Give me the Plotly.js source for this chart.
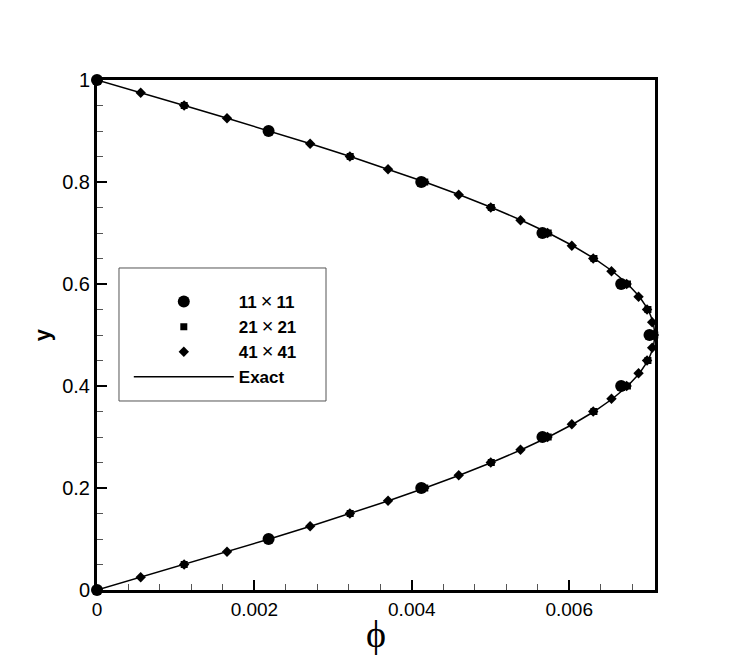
<!DOCTYPE html>
<html>
<head>
<meta charset="utf-8">
<script src="https://cdn.plot.ly/plotly-3.0.1.min.js"></script>
<style>
  html, body { margin: 0; padding: 0; background: #fff; }
  #plot { width: 747px; height: 665px; }
</style>
</head>
<body>
<div id="plot"></div>
<script>
// Grid convergence of phi(y): three meshes vs. the exact profile

const yFine = [0, 0.025, 0.05, 0.075, 0.1, 0.125, 0.15, 0.175, 0.2, 0.225, 0.25,
  0.275, 0.3, 0.325, 0.35, 0.375, 0.4, 0.425, 0.45, 0.475, 0.5,
  0.525, 0.55, 0.575, 0.6, 0.625, 0.65, 0.675, 0.7, 0.725, 0.75,
  0.775, 0.8, 0.825, 0.85, 0.875, 0.9, 0.925, 0.95, 0.975, 1];
const phiExact = [0, 0.000556, 0.001109, 0.001655, 0.002191, 0.002713, 0.003219, 0.003705, 0.004167, 0.004605, 0.005013,
  0.005391, 0.005736, 0.006045, 0.006317, 0.006550, 0.006743, 0.006894, 0.007003, 0.007068, 0.007090,
  0.007068, 0.007003, 0.006894, 0.006743, 0.006550, 0.006317, 0.006045, 0.005736, 0.005391, 0.005013,
  0.004605, 0.004167, 0.003705, 0.003219, 0.002713, 0.002191, 0.001655, 0.001109, 0.000556, 0];
const phi41 = [0, 0.000555, 0.001107, 0.001652, 0.002187, 0.002708, 0.003213, 0.003698, 0.004159, 0.004596, 0.005003,
  0.005381, 0.005725, 0.006033, 0.006305, 0.006537, 0.006730, 0.006881, 0.006989, 0.007054, 0.007076,
  0.007054, 0.006989, 0.006881, 0.006730, 0.006537, 0.006305, 0.006033, 0.005725, 0.005381, 0.005003,
  0.004596, 0.004159, 0.003698, 0.003213, 0.002708, 0.002187, 0.001652, 0.001107, 0.000555, 0];

const y21 = [0, 0.05, 0.1, 0.15, 0.2, 0.25, 0.3, 0.35, 0.4, 0.45, 0.5,
  0.55, 0.6, 0.65, 0.7, 0.75, 0.8, 0.85, 0.9, 0.95, 1];
const phi21 = [0, 0.001108, 0.002190, 0.003217, 0.004165, 0.005010, 0.005733, 0.006314, 0.006740, 0.007000, 0.007087,
  0.007000, 0.006740, 0.006314, 0.005733, 0.005010, 0.004165, 0.003217, 0.002190, 0.001108, 0];

const y11 = [0, 0.1, 0.2, 0.3, 0.4, 0.5, 0.6, 0.7, 0.8, 0.9, 1];
const phi11 = [0, 0.00218, 0.00412, 0.00566, 0.00666, 0.00702, 0.00666, 0.00566, 0.00412, 0.00218, 0];

const TIMES = "<span style='font-weight:normal;font-size:20px'>\u2009\u00d7\u2009</span>";
const seriesNames = ["11" + TIMES + "11", "21" + TIMES + "21", "41" + TIMES + "41", "Exact"];

const INK = "#000000";
const FONT = "Liberation Sans, Arial, Helvetica, sans-serif";

const traces = [
  { x: phiExact, y: yFine, type: "scatter", mode: "lines", name: seriesNames[3],
    line: { color: INK, width: 1.5 }, legendrank: 4, cliponaxis: false },
  { x: phi41, y: yFine, type: "scatter", mode: "markers", name: seriesNames[2],
    marker: { color: INK, size: 8, symbol: "diamond" }, legendrank: 3, cliponaxis: false },
  { x: phi21, y: y21, type: "scatter", mode: "markers", name: seriesNames[1],
    marker: { color: INK, size: 7, symbol: "square" }, legendrank: 2, cliponaxis: false },
  { x: phi11, y: y11, type: "scatter", mode: "markers", name: seriesNames[0],
    marker: { color: INK, size: 12, symbol: "circle" }, legendrank: 1, cliponaxis: false },
];

const ax = {
  showline: true, linewidth: 3, linecolor: INK, mirror: true,
  showgrid: false, zeroline: false,
  ticks: "inside", ticklen: 10, tickwidth: 2, tickcolor: INK,
};

const layout = {
  width: 747, height: 665,
  paper_bgcolor: "#ffffff", plot_bgcolor: "#ffffff",
  margin: { l: 97, r: 92, t: 80, b: 75 },
  showlegend: true,
  legend: {
    x: 0.057, y: 0.6, xanchor: "left", yanchor: "top",
    bgcolor: "rgba(0,0,0,0)", borderwidth: 0,
    itemwidth: 100, tracegroupgap: 0,
    font: { family: FONT, size: 17, color: INK, weight: "bold" },
  },
  xaxis: { ...ax, range: [0, 0.00709], tick0: 0, dtick: 0.002,
    tickfont: { family: FONT, size: 19, color: INK },
    minor: { dtick: 0.0004, ticks: "inside", ticklen: 6, tickwidth: 1, tickcolor: "#555" },
    title: { text: "\u03d5", standoff: 2,
      font: { family: "Liberation Serif, DejaVu Serif, serif", size: 38, color: INK } } },
  yaxis: { ...ax, range: [0, 1], tick0: 0, dtick: 0.2,
    tickfont: { family: FONT, size: 20, color: INK },
    minor: { dtick: 0.05, ticks: "inside", ticklen: 6, tickwidth: 1, tickcolor: "#555" },
    title: { text: "<b>y</b>", standoff: 6,
      font: { family: FONT, size: 22, color: INK } } },
  shapes: [{
    type: "rect", xref: "paper", yref: "paper",
    x0: 0.0394, x1: 0.4104, y0: 0.3706, y1: 0.6314,
    line: { color: "#555", width: 1 }, fillcolor: "rgba(0,0,0,0)",
  }],
};

Plotly.newPlot("plot", traces, layout, { displayModeBar: false, staticPlot: true });
</script>
</body>
</html>
